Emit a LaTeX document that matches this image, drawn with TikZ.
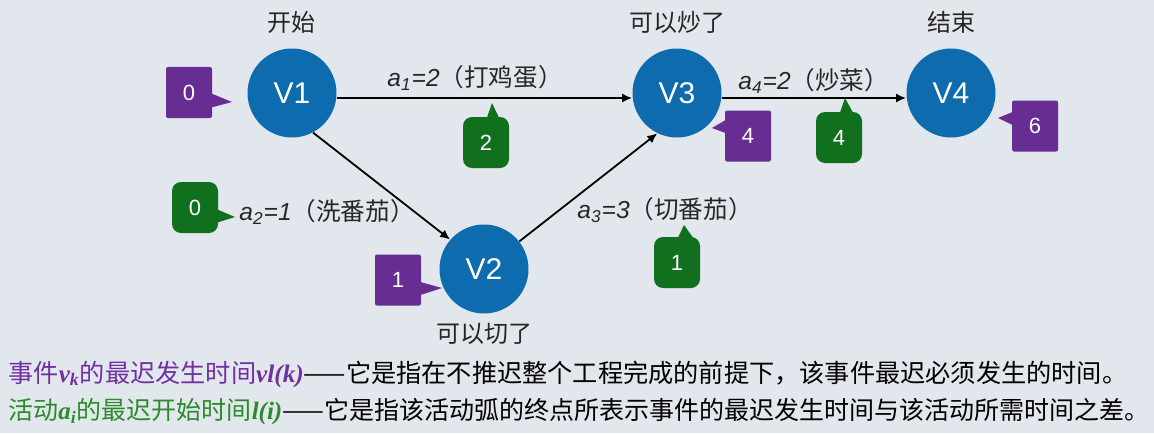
\documentclass[tikz,border=0pt]{standalone}
\usepackage{fontspec}
\setmainfont{Liberation Sans}
\newfontfamily\cjk{Noto Sans CJK SC}
\newfontfamily\tms{Liberation Serif}
\usetikzlibrary{arrows.meta,calc}
\definecolor{bgcol}{RGB}{226,231,237}
\definecolor{nodeblue}{RGB}{14,108,174}
\definecolor{vlpurple}{RGB}{103,45,146}
\definecolor{lgreen}{RGB}{16,112,30}
\definecolor{txtpurple}{RGB}{112,48,160}
\definecolor{txtgreen}{RGB}{40,140,40}
\tikzset{
  event/.style={circle,fill=nodeblue,text=white,minimum size=44.5pt,inner sep=0pt,font=\fontsize{15}{15}\selectfont},
  vlbox/.style={fill=vlpurple,text=white,minimum width=23pt,minimum height=25.5pt,inner sep=0pt,rounded corners=1pt,font=\fontsize{11}{11}\selectfont},
  lbox/.style={vlbox,fill=lgreen,rounded corners=4.5pt},
  act/.style={-{Latex[length=5pt,width=4.5pt]},line width=0.9pt},
  tag/.style={inner sep=0pt,text=black!85,font=\cjk\fontsize{12}{12}\selectfont},
  alab/.style={anchor=west,inner sep=0pt,text=black!85,font=\fontsize{12.3}{12.3}\selectfont},
  note/.style={anchor=west,inner sep=0pt,font=\cjk\fontsize{12.6}{12.6}\selectfont}
}
\begin{document}
\begin{tikzpicture}[x=0.5pt,y=-0.5pt,line join=round]
 \fill[bgcol] (0,0) rectangle (1154,433);
 \useasboundingbox (0,0) rectangle (1154,433);
 % events
 \node[event] (V1) at (292,93) {V1};
 \node[event] (V2) at (484,269) {V2};
 \node[event] (V3) at (677,93) {V3};
 \node[event] (V4) at (951,93) {V4};
 \node[tag] (n1) at (291,22) {开始};
 \node[tag] (n2) at (484,334) {可以切了};
 \node[tag] (n3) at (677,22) {可以炒了};
 \node[tag] (n4) at (951,22) {结束};
 % activities
 \draw[act] ($(V1.east)+(0,5)$) -- ($(V3.west)+(0,5)$);
 \draw[act] (V1.-62) -- (V2.139);
 \draw[act] (V2.38) -- (V3.-116);
 \draw[act] ($(V3.east)+(0,5)$) -- ($(V4.west)+(0,5)$);
 \node[alab] (a1) at (387,78) {{\itshape a\textsubscript{1}=2}{\cjk （打鸡蛋）}};
 \node[alab] (a2) at (239,212) {{\itshape a\textsubscript{2}=1}{\cjk （洗番茄）}};
 \node[alab] (a3) at (577,210) {{\itshape a\textsubscript{3}=3}{\cjk （切番茄）}};
 \node[alab] (a4) at (738,81) {{\itshape a\textsubscript{4}=2}{\cjk （炒菜）}};
 % vl(k)
 \node[vlbox] (vl1) at (189,92.5) {0};
 \fill[vlpurple] ($(vl1.east)+(-1,1)$) -- (232,102) -- ($(vl1.east)+(-1,15)$) -- cycle;
 \node[vlbox] (vl2) at (398,280) {1};
 \fill[vlpurple] ($(vl2.east)+(-1,2)$) -- (442,288) -- ($(vl2.east)+(-1,15)$) -- cycle;
 \node[vlbox] (vl3) at (748,136) {4};
 \fill[vlpurple] ($(vl3.west)+(1,-16)$) -- (712,128) -- ($(vl3.west)+(1,-3)$) -- cycle;
 \node[vlbox] (vl4) at (1035,126) {6};
 \fill[vlpurple] ($(vl4.west)+(1,-14)$) -- (998,118) -- ($(vl4.west)+(1,-1)$) -- cycle;
 % l(i)
 \node[lbox] (l1) at (486,142.5) {2};
 \fill[lgreen] ($(l1.north)+(1,1)$) -- (492,103) -- ($(l1.north)+(13,1)$) -- cycle;
 \node[lbox] (l2) at (195,207.5) {0};
 \fill[lgreen] ($(l2.east)+(-1,2)$) -- (235,217) -- ($(l2.east)+(-1,15)$) -- cycle;
 \node[lbox] (l3) at (677,262.5) {1};
 \fill[lgreen] ($(l3.north)+(1,1)$) -- (684,225) -- ($(l3.north)+(16,1)$) -- cycle;
 \node[lbox] (l4) at (839,137.5) {4};
 \fill[lgreen] ($(l4.north)+(1,1)$) -- (845,98) -- ($(l4.north)+(14,1)$) -- cycle;
 % definitions
 \node[note] (d1) at (8,374) {\textcolor{txtpurple}{事件{\tms\bfseries\itshape v\textsubscript{k}}的最迟发生时间{\tms\bfseries\itshape vl(k)}}——它是指在不推迟整个工程完成的前提下，该事件最迟必须发生的时间。};
 \node[note,font=\cjk\fontsize{12.5}{12.5}\selectfont] (d2) at (8,412) {\textcolor{txtgreen}{活动{\tms\bfseries\itshape a\textsubscript{i}}的最迟开始时间{\tms\bfseries\itshape l(i)}}——它是指该活动弧的终点所表示事件的最迟发生时间与该活动所需时间之差。};
\end{tikzpicture}
\end{document}
